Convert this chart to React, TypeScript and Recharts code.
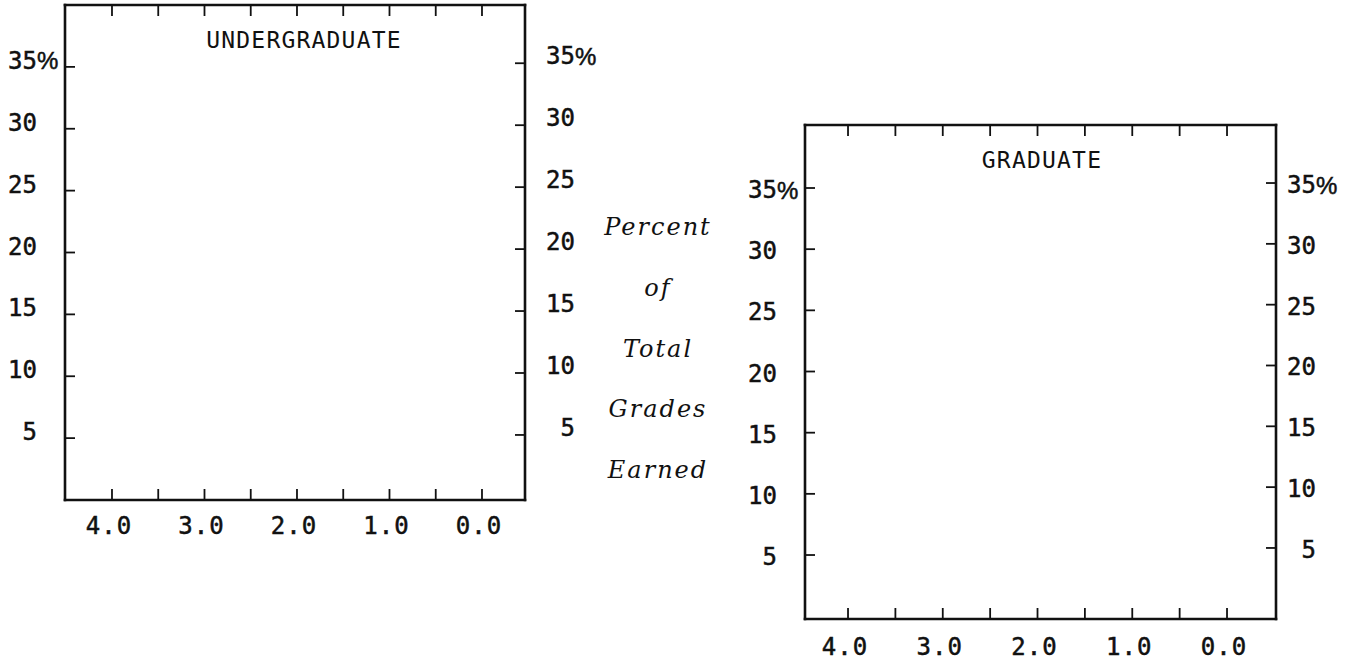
import React from 'react';
import { LineChart, Line, XAxis, YAxis } from 'recharts';

// ---- data (the reference chart is an empty template: no series values plotted) ----
const gradeTicks = [4.0, 3.5, 3.0, 2.5, 2.0, 1.5, 1.0, 0.5, 0.0];
const gradeLabelValues = [4.0, 3.0, 2.0, 1.0, 0.0];
const percentTicks = [5, 10, 15, 20, 25, 30, 35];
const percentSuffixTick = 35;
const undergraduateData: { grade: number; percent: number }[] = [];
const graduateData: { grade: number; percent: number }[] = [];
const panelTitles = ['UNDERGRADUATE', 'GRADUATE'];
const sideLabelLines = ['Percent', 'of', 'Total', 'Grades', 'Earned'];

const INK = '#111';
const MONO = '"DejaVu Sans Mono", monospace';
const HEAVY = { stroke: INK, strokeWidth: 0.5 };

const makeYTick = (dy: number) => (props: any) => {
  const { x, y, payload } = props;
  const v = payload.value;
  return (
    <g>
      <text x={x} y={y} dy={dy} textAnchor="end" dominantBaseline="central" fontFamily={MONO} fontSize={24} fill={INK} {...HEAVY}>
        {v}
      </text>
      {v === percentSuffixTick && (
        <text x={x} y={y} dy={dy} textAnchor="start" dominantBaseline="central" fontFamily='"Liberation Sans", sans-serif' fontSize={24} fill={INK} {...HEAVY}>
          %
        </text>
      )}
    </g>
  );
};

const XTick = (props: any) => {
  const { x, y, payload } = props;
  const v = payload.value as number;
  if (!gradeLabelValues.includes(v)) return <g />;
  return (
    <text x={x - 3} y={y} textAnchor="middle" dominantBaseline="central" fontFamily={MONO} fontSize={24} letterSpacing={1} fill={INK} {...HEAVY}>
      {v.toFixed(1)}
    </text>
  );
};

const EmptyTick = () => <g />;

const axisLine = { stroke: INK, strokeWidth: 2.6, strokeLinecap: 'square' as const };
const tickLine = { stroke: INK, strokeWidth: 1.8 };

type PanelProps = {
  data: { grade: number; percent: number }[];
  left: number;
  top: number;
  width: number;
  height: number;
  margin: { top: number; right: number; bottom: number; left: number };
  xDomain: [number, number];
  yLeftDomain: [number, number];
  yRightDomain: [number, number];
  leftTickMargin: number;
  rightTickMargin: number;
  bottomTickMargin: number;
  leftDy: number;
  rightDy: number;
};

const Panel = (p: PanelProps) => (
  <div style={{ position: 'absolute', left: p.left, top: p.top }}>
    <LineChart width={p.width} height={p.height} data={p.data} margin={p.margin}>
      <XAxis
        xAxisId="bottom"
        orientation="bottom"
        type="number"
        dataKey="grade"
        domain={p.xDomain}
        allowDataOverflow
        reversed
        ticks={gradeTicks}
        interval={0}
        height={40}
        tickSize={-11}
        tickMargin={p.bottomTickMargin}
        axisLine={axisLine}
        tickLine={tickLine}
        tick={XTick}
      />
      <XAxis
        xAxisId="top"
        orientation="top"
        type="number"
        dataKey="grade"
        domain={p.xDomain}
        allowDataOverflow
        reversed
        ticks={gradeTicks}
        interval={0}
        height={5}
        tickSize={-11}
        axisLine={axisLine}
        tickLine={tickLine}
        tick={EmptyTick}
      />
      <YAxis
        yAxisId="left"
        orientation="left"
        type="number"
        domain={p.yLeftDomain}
        allowDataOverflow
        ticks={percentTicks}
        interval={0}
        width={60}
        tickSize={-10}
        tickMargin={p.leftTickMargin}
        axisLine={axisLine}
        tickLine={tickLine}
        tick={makeYTick(p.leftDy)}
      />
      <YAxis
        yAxisId="right"
        orientation="right"
        type="number"
        domain={p.yRightDomain}
        allowDataOverflow
        ticks={percentTicks}
        interval={0}
        width={70}
        tickSize={-10}
        tickMargin={p.rightTickMargin}
        axisLine={axisLine}
        tickLine={tickLine}
        tick={makeYTick(p.rightDy)}
      />
      <Line
        xAxisId="bottom"
        yAxisId="left"
        dataKey="percent"
        stroke={INK}
        dot={false}
        isAnimationActive={false}
      />
    </LineChart>
  </div>
);

export default function App() {
  return (
    <div style={{ position: 'absolute', left: 0, top: 0, width: 1360, height: 660, background: '#fff', overflow: 'hidden' }}>
      <Panel
        data={undergraduateData}
        left={0}
        top={0}
        width={620}
        height={560}
        margin={{ top: 0, right: 25, bottom: 20, left: 5 }}
        xDomain={[-0.465, 4.508]}
        yLeftDomain={[0, 40]}
        yRightDomain={[-0.25, 39.7]}
        leftTickMargin={38}
        rightTickMargin={60}
        bottomTickMargin={37}
        leftDy={-6}
        rightDy={-7}
      />
      <Panel
        data={graduateData}
        left={700}
        top={100}
        width={660}
        height={560}
        margin={{ top: 20, right: 14, bottom: 1, left: 45 }}
        xDomain={[-0.517, 4.454]}
        yLeftDomain={[-0.23, 40.15]}
        yRightDomain={[-0.84, 39.77]}
        leftTickMargin={38}
        rightTickMargin={50}
        bottomTickMargin={39}
        leftDy={2}
        rightDy={2}
      />
      <svg width={1360} height={660} style={{ position: 'absolute', left: 0, top: 0, pointerEvents: 'none' }}>
        <text x={304} y={40} textAnchor="middle" dominantBaseline="central" fontFamily={MONO} fontSize={23} letterSpacing={1.2} fill={INK}>
          {panelTitles[0]}
        </text>
        <text x={1042} y={160} textAnchor="middle" dominantBaseline="central" fontFamily={MONO} fontSize={23} letterSpacing={1.2} fill={INK}>
          {panelTitles[1]}
        </text>
        {sideLabelLines.map((s, i) => (
          <text
            key={s}
            x={658}
            y={227 + i * 60.8}
            textAnchor="middle"
            dominantBaseline="central"
            fontFamily='"DejaVu Serif", serif'
            fontStyle="italic"
            fontSize={24}
            letterSpacing={2}
            fill={INK}
          >
            {s}
          </text>
        ))}
      </svg>
    </div>
  );
}
